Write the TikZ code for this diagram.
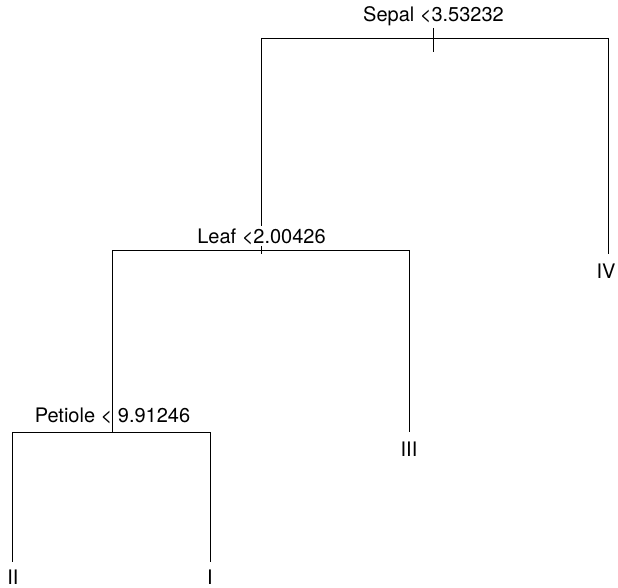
\documentclass[tikz,border=0pt]{standalone}
\usepackage{fontspec}
\setmainfont{TeX Gyre Heros}
\usetikzlibrary{positioning}

\begin{document}
\begin{tikzpicture}[x=1pt,y=-1pt,line width=0.9pt,
    split/.style={anchor=base,inner sep=0pt,font=\fontsize{20}{24}\selectfont},
    class/.style={anchor=base,inner sep=0pt,font=\fontsize{20}{24}\selectfont}]
    \useasboundingbox (0,0) rectangle (618,588);

    % split points
    \coordinate (root) at (433,38);
    \coordinate (rootL) at (261,38);
    \coordinate (rootR) at (608,38);
    \coordinate (leafS) at (261,250);
    \coordinate (leafL) at (112,250);
    \coordinate (leafR) at (409,250);
    \coordinate (petS) at (112,432);
    \coordinate (petL) at (12,432);
    \coordinate (petR) at (210,432);

    \node[split] (sepal) at (433.5,22) {Sepal <3.53232};
    \node[split] (leaf) at (261.5,243) {Leaf <2.00426};
    \node[split] (petiole) at (112.5,422) {Petiole < 9.91246};

    \node[class] (IV) at (606,278) {IV};
    \node[class] (III) at (409,456) {III};
    \node[class] (II) at (13,584) {II};
    \node[class] (I) at (210,584) {I};

    % root
    \draw (rootL) -- (rootR);
    \draw ([yshift=10pt]root) -- ([yshift=-14pt]root);
    \draw (rootR) -- ([yshift=9pt]IV.north -| rootR);
    \draw (rootL) -- ([yshift=2pt]leaf.north -| rootL);

    % leaf
    \draw (leafL) -- (leafR);
    \draw ([yshift=4pt]leafS) -- ([yshift=-4pt]leafS);
    \draw (leafR) -- ([yshift=9pt]III.north -| leafR);
    \draw (leafL) -- (petS);

    % petiole
    \draw (petL) -- (petR);
    \draw (petL) -- ([yshift=7pt]II.north -| petL);
    \draw (petR) -- ([yshift=7pt]I.north -| petR);
\end{tikzpicture}
\end{document}
